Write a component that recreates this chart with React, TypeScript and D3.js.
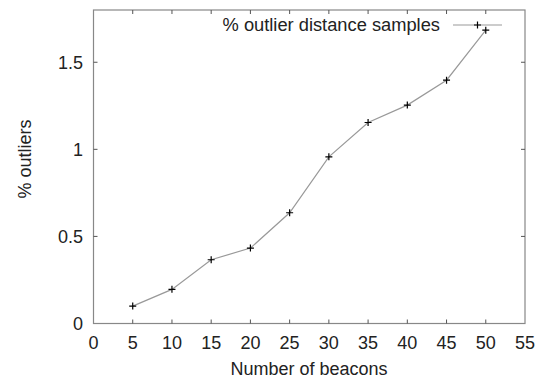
import React from 'react';
import * as d3 from 'd3';

const beacons = [5, 10, 15, 20, 25, 30, 35, 40, 45, 50];
const outlierPct = [0.1, 0.196, 0.366, 0.433, 0.636, 0.957, 1.154, 1.254, 1.397, 1.684];
const xTicks = [0, 5, 10, 15, 20, 25, 30, 35, 40, 45, 50, 55];
const yTicks = [0, 0.5, 1, 1.5];
const seriesName = '% outlier distance samples';

const W = 537;
const H = 382;
const left = 93.5;
const right = 525;
const top = 10;
const bottom = 323.5;

export default function App() {
    const x = d3.scaleLinear().domain([0, 55]).range([left, right]);
    const y = d3.scaleLinear().domain([0, 1.8]).range([bottom, top]);
    const pts = beacons.map((b, i) => [b, outlierPct[i]] as [number, number]);
    const line = d3.line<[number, number]>().x(d => x(d[0])).y(d => y(d[1]))(pts) || '';
    const font = 'Liberation Sans, Arial, Helvetica, sans-serif';
    const fs = 18;
    const tk = 4;
    const plus = (cx: number, cy: number, k: string | number) => (
        <path key={k} d={`M${cx - 3.5},${cy}H${cx + 3.5}M${cx},${cy - 3.5}V${cy + 3.5}`} stroke="#000" strokeWidth={1.2} />
    );

    return (
        <svg width={W} height={H} style={{ position: 'absolute', left: 0, top: 0, background: '#fff' }}
            fontFamily={font}>
            <rect x={left} y={top} width={right - left} height={bottom - top} fill="none" stroke="#888" strokeWidth={1.2} />
            {xTicks.slice(1, -1).map(t => (
                <g key={'xt' + t} stroke="#555" strokeWidth={1}>
                    <line x1={x(t)} x2={x(t)} y1={bottom} y2={bottom - tk} />
                    <line x1={x(t)} x2={x(t)} y1={top} y2={top + tk} />
                </g>
            ))}
            {yTicks.slice(1).map(t => (
                <g key={'yt' + t} stroke="#555" strokeWidth={1}>
                    <line x1={left} x2={left + tk} y1={y(t)} y2={y(t)} />
                    <line x1={right} x2={right - tk} y1={y(t)} y2={y(t)} />
                </g>
            ))}
            {xTicks.map(t => (
                <text key={'xl' + t} x={x(t)} y={348.5} textAnchor="middle" fontSize={fs} fill="#222">{t}</text>
            ))}
            {yTicks.map(t => (
                <text key={'yl' + t} x={83} y={y(t) + 6.5} textAnchor="end" fontSize={fs} fill="#222">{t}</text>
            ))}
            <text x={309} y={375} textAnchor="middle" fontSize={fs} fill="#222">Number of beacons</text>
            <text transform="translate(31,159) rotate(-90)" textAnchor="middle" fontSize={fs} fill="#222">% outliers</text>
            <path d={line} fill="none" stroke="#999" strokeWidth={1.2} />
            {pts.map((d, i) => plus(x(d[0]), y(d[1]), i))}
            <text x={440} y={31} textAnchor="end" fontSize={18.3} fill="#222">{seriesName}</text>
            <line x1={453} x2={502} y1={25} y2={25} stroke="#999" strokeWidth={1.2} />
            {plus(477.5, 25, 'leg')}
        </svg>
    );
}
